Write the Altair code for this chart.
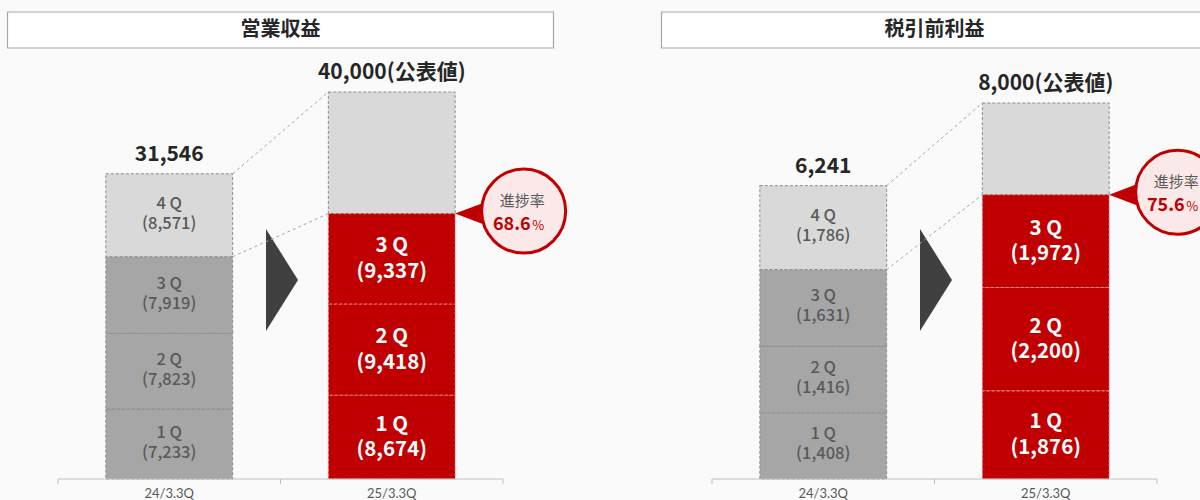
import altair as alt
import pandas as pd

# ---- data ----
panels = ["営業収益", "税引前利益"]
periods = ["24/3.3Q", "25/3.3Q"]
quarters = ["1 Q", "2 Q", "3 Q", "4 Q"]
revenue_prev = [7233, 7823, 7919, 8571]
revenue_cur = [8674, 9418, 9337]
revenue_plan = 40000
pretax_prev = [1408, 1416, 1631, 1786]
pretax_cur = [1876, 2200, 1972]
pretax_plan = 8000
plan_note = "(公表値)"
progress_title = "進捗率"

JP = "Noto Sans CJK JP"
RED = "#c00000"
DARK = "#262626"
GREYTXT = "#595959"

x_scale = alt.Scale(domain=panels, range=[58, 1157], paddingInner=0.3196, paddingOuter=0)
xo_scale = alt.Scale(domain=periods, paddingInner=0.43, paddingOuter=0.215)
kind_scale = alt.Scale(domain=["prev", "prev4", "cur", "plan"],
                       range=["#a6a6a6", "#d9d9d9", RED, "#d9d9d9"])

X = alt.X("panel:N", scale=x_scale, axis=None)
X2 = alt.X2("panel:N")
XO = alt.XOffset("period:N", scale=xo_scale)
HALF_STEP = 222.5 / 2          # half of a period slot
EDGE = HALF_STEP - 63.4        # distance from panel centre to inner bar edges


def panel_layer(panel, prev, cur, plan, top_px):
    ys = alt.Scale(domain=[0, plan], range=[479, top_px], nice=False, zero=False)

    def Y(field):
        return alt.Y(f"{field}:Q", scale=ys, axis=None)

    rows = []
    cum = 0
    for q, v in zip(quarters, prev):
        rows.append(dict(panel=panel, period=periods[0], q=q, y0=cum, y1=cum + v,
                         kind="prev4" if q == quarters[3] else "prev", lab=f"{q}\n({v:,})"))
        cum += v
    prev_total = cum
    cum = 0
    for q, v in zip(quarters, cur):
        rows.append(dict(panel=panel, period=periods[1], q=q, y0=cum, y1=cum + v,
                         kind="cur", lab=f"{q}\n({v:,})"))
        cum += v
    cur_total = cum
    rows.append(dict(panel=panel, period=periods[1], q="", y0=cur_total, y1=plan,
                     kind="plan", lab=""))
    segs = pd.DataFrame(rows)
    segs["mid"] = (segs["y0"] + segs["y1"]) / 2

    grey = segs[segs["kind"] != "cur"]
    grey_lab = segs[segs["kind"].isin(["prev", "prev4"])]
    red = segs[segs["kind"] == "cur"]

    totals = pd.DataFrame([
        dict(panel=panel, period=periods[0], y=prev_total, text=f"{prev_total:,}"),
        dict(panel=panel, period=periods[1], y=plan, text=f"{plan:,}{plan_note}"),
    ])
    conn = pd.DataFrame([
        dict(panel=panel, ya=prev_total, yb=plan),
        dict(panel=panel, ya=prev_total - prev[3], yb=cur_total),
    ])
    prog = pd.DataFrame([dict(panel=panel, y=cur_total,
                              rate=f"{cur_total / plan * 100:.1f}")])
    base = pd.DataFrame([dict(panel=panel, y=0)])
    base_lab = pd.DataFrame([dict(panel=panel, period=p, y=0) for p in periods])

    color = alt.Color("kind:N", scale=kind_scale, legend=None)

    grey_bars = alt.Chart(grey).mark_bar(stroke="#8c8c8c", strokeDash=[3, 2], strokeWidth=1).encode(
        x=X, xOffset=XO, y=Y("y1"), y2="y0:Q", color=color)
    red_bars = alt.Chart(red).mark_bar(stroke="#e3a0a0", strokeDash=[3, 2], strokeWidth=0.8).encode(
        x=X, xOffset=XO, y=Y("y1"), y2="y0:Q", color=color)

    grey_txt = alt.Chart(grey_lab).mark_text(lineBreak="\n", lineHeight=20, dy=-11.5, fontSize=16.5,
                                             fontWeight=500, color=GREYTXT, font=JP).encode(
        x=X, xOffset=XO, y=Y("mid"), text="lab:N")
    red_txt = alt.Chart(red).mark_text(lineBreak="\n", lineHeight=25.5, dy=-12.5, fontSize=20.5,
                                       fontWeight="bold", color="white", font=JP).encode(
        x=X, xOffset=XO, y=Y("mid"), text="lab:N")

    tot = alt.Chart(totals).mark_text(dy=-19, fontSize=21, fontWeight="bold", color=DARK, font=JP).encode(
        x=X, xOffset=XO, y=Y("y"), text="text:N")

    connectors = alt.Chart(conn).mark_rule(xOffset=-EDGE, x2Offset=EDGE, color="#a6a6a6",
                                           strokeDash=[3, 3], strokeWidth=1).encode(
        x=X, x2=X2, y=Y("ya"), y2="yb:Q")

    tip_x = HALF_STEP + 63.4
    pointer = alt.Chart(prog).mark_point(shape="M -1 0 L 1 -0.76 L 1 0.76 Z", size=1600, filled=True,
                                         color=RED, opacity=1, strokeWidth=0, xOffset=tip_x + 20).encode(
        x=X, y=Y("y"))
    bubble = alt.Chart(prog).mark_point(shape="circle", size=84 * 84, filled=True, fill="#fbe9e9",
                                        stroke=RED, strokeWidth=3, opacity=1,
                                        xOffset=tip_x + 68.5, yOffset=-2.5).encode(
        x=X, y=Y("y"))
    bub_t = alt.Chart(prog).mark_text(text=progress_title, dx=tip_x + 67, dy=-13, fontSize=15,
                                      color=GREYTXT, font=JP).encode(x=X, y=Y("y"))
    bub_r = alt.Chart(prog).mark_text(align="right", baseline="alphabetic", dx=tip_x + 75.5, dy=16,
                                      fontSize=18, fontWeight="bold", color=RED, font=JP).encode(
        x=X, y=Y("y"), text="rate:N")
    bub_p = alt.Chart(prog).mark_text(text="%", align="left", baseline="alphabetic", dx=tip_x + 77,
                                      dy=16, fontSize=13, color=RED, font=JP).encode(x=X, y=Y("y"))

    axis_line = alt.Chart(base).mark_rule(xOffset=-2 * HALF_STEP, x2Offset=2 * HALF_STEP,
                                          color="#bfbfbf", strokeWidth=1.2).encode(
        x=X, x2=X2, y=Y("y"))
    ticks = [alt.Chart(base).mark_rule(xOffset=o, y2Offset=5, color="#bfbfbf", strokeWidth=1).encode(
        x=X, y=Y("y"), y2="y:Q") for o in (-2 * HALF_STEP, 0, 2 * HALF_STEP)]
    axis_lab = alt.Chart(base_lab).mark_text(dy=15, fontSize=13, color=GREYTXT, font="Lato").encode(
        x=X, xOffset=XO, y=Y("y"), text="period:N")

    return alt.layer(connectors, grey_bars, red_bars, grey_txt, red_txt, tot,
                     pointer, bubble, bub_t, bub_r, bub_p, axis_line, *ticks, axis_lab)


pan = pd.DataFrame({"panel": panels})
title_box = alt.Chart(pan).mark_bar(width=546, fill="white", stroke="#a6a6a6", strokeWidth=1.2).encode(
    x=X, y=alt.value(12), y2=alt.value(48))
title_txt = alt.Chart(pan).mark_text(fontSize=20, fontWeight="bold", color=DARK, font=JP).encode(
    x=X, y=alt.value(30), text="panel:N")
arrow = alt.Chart(pan).mark_point(shape="M -0.314 -1 L 0.314 0 L -0.314 1 Z", size=102 * 102, filled=True,
                                  color="#404040", opacity=1, strokeWidth=0, xOffset=1.5).encode(
    x=X, y=alt.value(280))
decor = alt.layer(title_box, title_txt, arrow)

left = panel_layer(panels[0], revenue_prev, revenue_cur, revenue_plan, 92)
right = panel_layer(panels[1], pretax_prev, pretax_cur, pretax_plan, 103)

chart = alt.layer(decor, left, right).resolve_scale(y="independent").properties(
    width=1200, height=500, padding=0,
    autosize=alt.AutoSizeParams(type="none"),
    background="#fafafa",
).configure_view(stroke=None).configure_text(font=JP)

chart.save("out.html", embed_options={"renderer": "svg", "actions": False})
